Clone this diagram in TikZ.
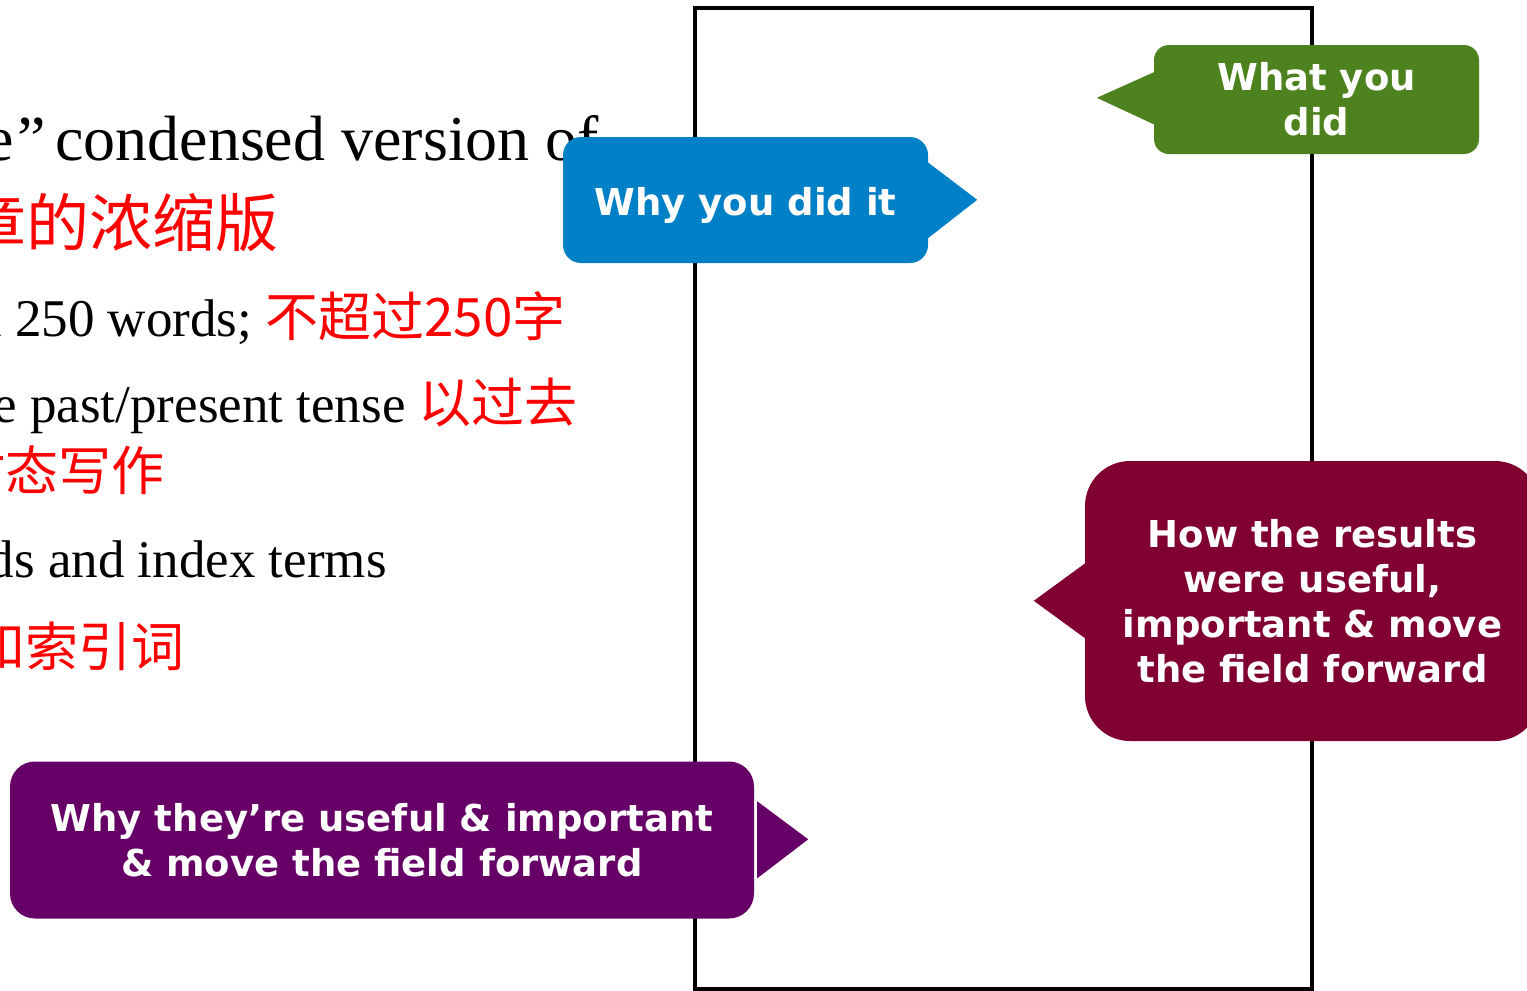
\documentclass[tikz,border=0pt]{standalone}
\usepackage{fontspec}
\setmainfont{Liberation Serif}
\newfontfamily\cjk{Noto Sans CJK SC}
\newfontfamily\bubfont{DejaVu Sans}
\usetikzlibrary{calc}
\definecolor{bblue}{RGB}{0,128,198}
\definecolor{bgreen}{RGB}{78,130,30}
\definecolor{bmaroon}{RGB}{128,0,50}
\definecolor{bpurple}{RGB}{102,0,102}
\definecolor{cred}{RGB}{255,0,0}
\tikzset{
  bubble/.style={rectangle, rounded corners=#1, inner sep=0pt, text=white, align=center,
    font=\bubfont\bfseries\fontsize{37}{45}\selectfont},
  bigline/.style={anchor=base west, inner sep=0pt, font=\fontsize{64}{70}\selectfont},
  bigcn/.style={anchor=base west, inner sep=0pt, text=cred, font=\cjk\fontsize{63}{70}\selectfont},
  txtline/.style={anchor=base west, inner sep=0pt, font=\fontsize{53}{60}\selectfont},
  cnline/.style={anchor=base west, inner sep=0pt, text=cred, font=\cjk\fontsize{53}{60}\selectfont},
  frame/.style={draw, line width=4pt, inner sep=0pt}
}
\begin{document}
\begin{tikzpicture}[x=1pt,y=-1pt]
\useasboundingbox (0,0) rectangle (1527,991);
\clip (0,0) rectangle (1527,991);

% page frame
\node[frame, minimum width=617pt, minimum height=981pt] (page) at (1003.5,498.5) {};

% left text
\node[bigline] (l1) at (55,160) {\llap{A “stand-alone\kern4pt”\kern-7pt\ }condensed version of};
\node[bigcn] (l2) at (26,246) {\llap{文章}的浓缩版};
\node[txtline] (l3) at (15,336) {\llap{Less than }250 words; {\cjk\color{cred}不超过250字}};
\node[txtline] (l4) at (30,422) {\llap{Use the }past/present tense {\cjk\color{cred}以过去}};
\node[cnline] (l5) at (5,490) {\llap{现在时}态写作};
\node[txtline] (l6) at (48,577) {\llap{Keywords }and index terms};
\node[cnline] (l7) at (25,666) {\llap{关键词和}索引词};

% blue bubble
\node[bubble=18pt, fill=bblue, minimum width=365pt, minimum height=126pt, text height=33pt, text depth=3pt] (why) at (745.5,200) {Why you did it};
\fill[bblue] ($(why.north east)+(-1,25)$) -- ($(why.north east)+(49,63)$) -- ($(why.north east)+(-1,102)$) -- cycle;

% green bubble
\node[bubble=15pt, fill=bgreen, minimum width=325pt, minimum height=109pt] (what) at (1316.5,99.5) {What you\\did};
\fill[bgreen] ($(what.north west)+(1,27)$) -- ($(what.north west)+(-57,53)$) -- ($(what.north west)+(1,80)$) -- cycle;

% maroon bubble
\node[bubble=45pt, fill=bmaroon, minimum width=455pt, minimum height=280pt] (how) at (1312.5,601) {How the results\\were useful,\\important \& move\\the field forward};
\fill[bmaroon] ($(how.north west)+(1,102)$) -- ($(how.north west)+(-51,140)$) -- ($(how.north west)+(1,178)$) -- cycle;

% purple bubble
\node[bubble=25pt, fill=bpurple, minimum width=744pt, minimum height=157pt] (they) at (382,840) {Why they’re useful \& important\\\& move the field forward};
\fill[bpurple] ($(they.north east)+(3,40)$) -- ($(they.north east)+(54,78)$) -- ($(they.north east)+(3,117)$) -- cycle;
\end{tikzpicture}
\end{document}
